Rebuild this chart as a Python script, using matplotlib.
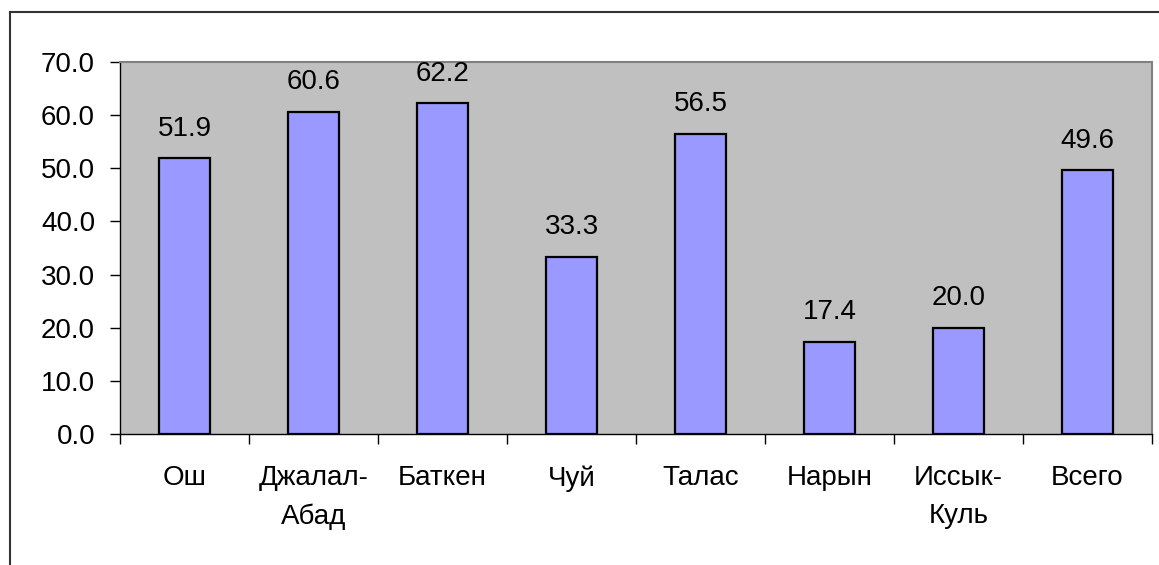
import matplotlib
matplotlib.use("Agg")
from matplotlib import pyplot as plt
from matplotlib.lines import Line2D

regions = ["Ош", "Джалал-\nАбад", "Баткен", "Чуй", "Талас", "Нарын", "Иссык-\nКуль", "Всего"]
values = [51.9, 60.6, 62.2, 33.3, 56.5, 17.4, 20.0, 49.6]
y_ticks = [0, 10, 20, 30, 40, 50, 60, 70]

plt.rcParams['font.family'] = ['Liberation Sans', 'DejaVu Sans']
fs = 20

fig = plt.figure(figsize=(11.59, 5.65), dpi=100)
ax = fig.add_axes([120 / 1159, 1 - 434 / 565, 1032 / 1159, 372 / 565])
ax.set_facecolor("#C0C0C0")

pos = list(range(len(values)))
ax.bar(pos, values, width=0.4, color="#9999FF", edgecolor="black", linewidth=1.6, zorder=3)

# value labels above the bars
for x, v in zip(pos, values):
    ax.annotate(f"{v:.1f}", (x, v), xytext=(0, 12), textcoords="offset points",
                ha="center", va="bottom", fontsize=fs)

ax.set_xlim(-0.5, len(values) - 0.5)
ax.set_ylim(0, 70)
ax.set_yticks(y_ticks)
ax.set_yticklabels([f"{t:.1f}" for t in y_ticks], fontsize=fs)

# category boundaries get the ticks, names sit between them
ax.set_xticks([i - 0.5 for i in range(len(values) + 1)])
ax.set_xticklabels([])
ax.tick_params(axis="x", length=7, width=1, direction="out")
ax.tick_params(axis="y", length=7, width=1, direction="out", pad=11)
for x, name in zip(pos, regions):
    ax.text(x, -5.9, name, ha="center", va="top", fontsize=fs, linespacing=1.6)

for side in ["top", "right"]:
    ax.spines[side].set_color("#808080")
    ax.spines[side].set_linewidth(1.5)
for side in ["left", "bottom"]:
    ax.spines[side].set_color("black")
    ax.spines[side].set_linewidth(1)

# outer chart frame (only top and left edges are visible in the crop)
fig.add_artist(Line2D([10 / 1159, 1.0], [1 - 12 / 565, 1 - 12 / 565], color="#333333", lw=1.5))
fig.add_artist(Line2D([10 / 1159, 10 / 1159], [0.0, 1 - 12 / 565], color="#333333", lw=1.5))

fig.savefig("out.png", dpi=100)
